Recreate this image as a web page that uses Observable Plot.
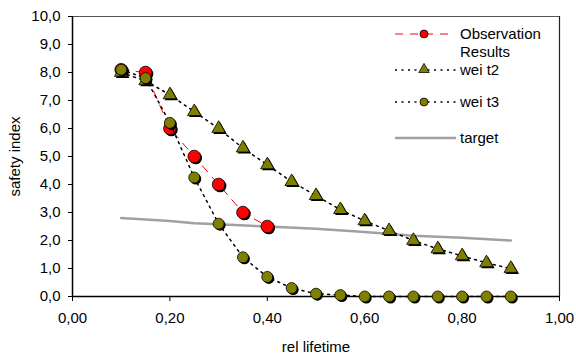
<!DOCTYPE html>
<html>
<head>
<meta charset="utf-8">
<script src="https://cdn.jsdelivr.net/npm/d3@7"></script>
<script src="https://cdn.jsdelivr.net/npm/@observablehq/plot@0.6"></script>
<style>
  body { margin: 0; background: #fff; }
  #wrap { position: relative; width: 576px; height: 353px; font-family: "Liberation Sans", Arial, sans-serif; }
  #legend { position: absolute; left: 0; top: 0; pointer-events: none; }
</style>
</head>
<body>
<div id="wrap"></div>
<script>
// ---- data ----
const xObs = [0.10, 0.15, 0.20, 0.25, 0.30, 0.35, 0.40];
const yObs = [8.1, 8.0, 6.0, 5.0, 4.0, 3.0, 2.5];

const xWei = [0.10, 0.15, 0.20, 0.25, 0.30, 0.35, 0.40, 0.45, 0.50, 0.55, 0.60, 0.65, 0.70, 0.75, 0.80, 0.85, 0.90];
const yT2  = [8.0, 7.7, 7.2, 6.6, 6.0, 5.3, 4.7, 4.1, 3.6, 3.1, 2.7, 2.35, 2.0, 1.7, 1.45, 1.2, 1.0];
const yT3  = [8.1, 7.8, 6.2, 4.25, 2.6, 1.4, 0.7, 0.3, 0.1, 0.05, 0.0, 0.0, 0.0, 0.0, 0.0, 0.0, 0.0];

const xTarget = [0.10, 0.20, 0.25, 0.30, 0.40, 0.50, 0.60, 0.70, 0.80, 0.90];
const yTarget = [2.8, 2.7, 2.62, 2.58, 2.5, 2.42, 2.3, 2.17, 2.1, 2.0];

const xTicks = [0, 0.2, 0.4, 0.6, 0.8, 1.0];
const yTicks = [0, 1, 2, 3, 4, 5, 6, 7, 8, 9, 10];

const seriesNames = ["Observation Results", "wei t2", "wei t3", "target"];
const RED = "#ff0000", OLIVE = "#808000", GREY = "#a0a0a0";
const DOTS = "2,4.5", DASH = "8,7";

const obs = xObs.map((x, i) => ({x, y: yObs[i]}));
const t2 = xWei.map((x, i) => ({x, y: yT2[i]}));
const t3 = xWei.map((x, i) => ({x, y: yT3[i]}));
const target = xTarget.map((x, i) => ({x, y: yTarget[i]}));

const fmtY = d => d.toFixed(1).replace(".", ",");
const fmtX = d => d.toFixed(2).replace(".", ",");

const chart = Plot.plot({
  width: 576,
  height: 353,
  marginLeft: 72,
  marginRight: 17,
  marginTop: 16,
  marginBottom: 57,
  style: {fontFamily: "Liberation Sans, Arial, sans-serif", fontSize: "15px", color: "#000", background: "#fff"},
  x: {domain: [0, 1]},
  y: {domain: [0, 10]},
  marks: [
    Plot.ruleY([10], {stroke: "#555", strokeWidth: 1}),
    Plot.ruleX([1], {stroke: "#222", strokeWidth: 1.2}),
    Plot.axisY({ticks: yTicks, tickFormat: fmtY, tickSize: 4, tickPadding: 8, fontSize: 15,
      label: "safety index", labelAnchor: "center", labelArrow: "none", labelOffset: 63}),
    Plot.axisX({ticks: xTicks, tickFormat: fmtX, tickSize: 5, tickPadding: 11, fontSize: 15,
      label: "rel lifetime", labelAnchor: "center", labelArrow: "none", labelOffset: 55}),
    Plot.ruleX([0], {stroke: "#000", strokeWidth: 1.5}),
    Plot.ruleY([0], {stroke: "#000", strokeWidth: 1.5}),
    Plot.line(target, {x: "x", y: "y", stroke: GREY, strokeWidth: 2.5}),
    Plot.line(obs, {x: "x", y: "y", stroke: RED, strokeWidth: 1, strokeDasharray: DASH}),
    Plot.dot(obs, {x: "x", y: "y", r: 6.3, fill: "#000", dx: 1.5, dy: 1.5}),
    Plot.dot(obs, {x: "x", y: "y", r: 6.3, fill: RED, stroke: "#000", strokeWidth: 0.8}),
    Plot.line(t2, {x: "x", y: "y", stroke: "#000", strokeWidth: 1.5, strokeDasharray: DOTS}),
    Plot.dot(t2, {x: "x", y: "y", symbol: "triangle", r: 5, fill: "#000", dx: 1.5, dy: 1.5}),
    Plot.dot(t2, {x: "x", y: "y", symbol: "triangle", r: 5, fill: OLIVE, stroke: "#000", strokeWidth: 0.8}),
    Plot.line(t3, {x: "x", y: "y", stroke: "#000", strokeWidth: 1.5, strokeDasharray: DOTS}),
    Plot.dot(t3, {x: "x", y: "y", r: 5.5, fill: "#000", dx: 1.5, dy: 1.5}),
    Plot.dot(t3, {x: "x", y: "y", r: 5.5, fill: OLIVE, stroke: "#000", strokeWidth: 0.8})
  ]
});

const wrap = document.getElementById("wrap");
wrap.appendChild(chart);

// ---- legend (inside plot area, top-right) ----
const lg = d3.select(wrap).append("svg").attr("id", "legend").attr("width", 576).attr("height", 353)
  .style("font-family", "Liberation Sans, Arial, sans-serif").style("font-size", "15px");
const rows = [
  {name: seriesNames[0], y: 34, stroke: RED, dash: DASH, width: 1, sym: "circle", fill: RED},
  {name: seriesNames[1], y: 70, stroke: "#000", dash: DOTS, width: 1.5, sym: "triangle", fill: OLIVE},
  {name: seriesNames[2], y: 102, stroke: "#000", dash: DOTS, width: 1.5, sym: "circle", fill: OLIVE},
  {name: seriesNames[3], y: 138, stroke: GREY, dash: null, width: 2.5, sym: null, fill: null}
];
rows.forEach(r => {
  const g = lg.append("g");
  g.append("line").attr("x1", 395).attr("x2", r.name === "Observation Results" ? 450 : 456).attr("y1", r.y).attr("y2", r.y)
    .attr("stroke", r.stroke).attr("stroke-width", r.width).attr("stroke-dasharray", r.dash);
  if (r.sym === "circle") {
    g.append("circle").attr("cx", 424).attr("cy", r.y).attr("r", 4).attr("fill", r.fill).attr("stroke", "#000").attr("stroke-width", 0.8);
  } else if (r.sym === "triangle") {
    g.append("path").attr("d", d3.symbol(d3.symbolTriangle, 48)()).attr("transform", `translate(424,${r.y - 0.5})`)
      .attr("fill", r.fill).attr("stroke", "#000").attr("stroke-width", 0.8);
  }
  if (r.name === "Observation Results") {
    const t = g.append("text").attr("x", 460).attr("y", r.y).attr("dy", "0.35em").attr("fill", "#000");
    t.append("tspan").attr("x", 460).text("Observation");
    t.append("tspan").attr("x", 460).attr("dy", "1.2em").text("Results");
  } else {
    g.append("text").attr("x", 460).attr("y", r.y).attr("dy", "0.35em").attr("fill", "#000").text(r.name);
  }
});
</script>
</body>
</html>
